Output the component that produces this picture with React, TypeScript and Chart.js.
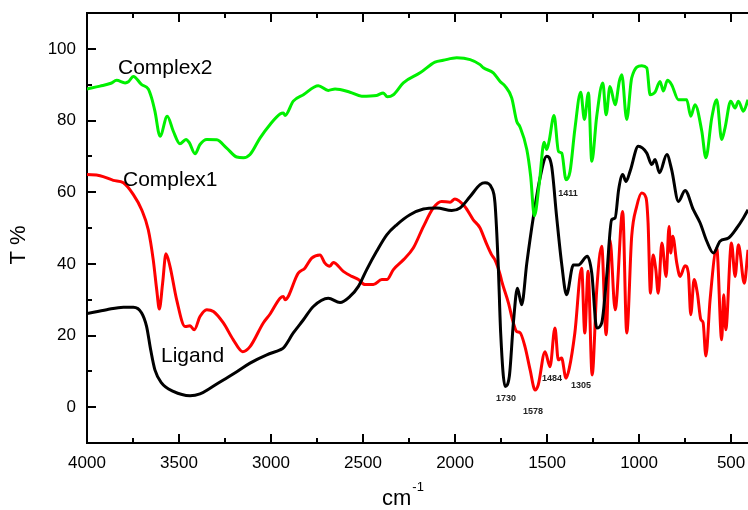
import React, { useEffect, useRef } from 'react';
import { Chart, registerables } from 'chart.js';

Chart.register(...registerables);

// ---- Data (wavenumber in cm-1, transmittance in %) ----
const ligandWn = [4000, 3893, 3802, 3748, 3703, 3676, 3654, 3631, 3594, 3531, 3440, 3386, 3331, 3259, 3186, 3114, 3023, 2951, 2933, 2879, 2824, 2770, 2689, 2625, 2571, 2525, 2480, 2426, 2371, 2317, 2245, 2172, 2099, 2018, 1973, 1918, 1864, 1837, 1801, 1783, 1765, 1752, 1728, 1705, 1683, 1661, 1638, 1610, 1574, 1538, 1502, 1475, 1448, 1421, 1394, 1357, 1330, 1281, 1257, 1230, 1203, 1176, 1149, 1130, 1111, 1089, 1071, 1049, 1004, 958, 931, 913, 889, 849, 823, 786, 750, 705, 668, 632, 596, 560, 514, 469, 433, 408];
const ligandT = [26.1, 27.2, 27.9, 27.9, 26.3, 22.5, 16.0, 10.4, 6.7, 4.4, 3.2, 3.7, 5.3, 7.6, 9.9, 12.3, 14.6, 16.0, 16.5, 20.7, 24.4, 28.1, 30.4, 29.2, 30.9, 33.7, 38.4, 43.5, 48.1, 50.9, 53.7, 55.3, 55.6, 54.9, 55.6, 58.8, 62.1, 62.6, 61.2, 57.0, 39.3, 20.7, 5.8, 8.6, 23.5, 33.2, 28.6, 40.2, 53.2, 64.0, 70.0, 67.2, 53.2, 40.2, 31.4, 39.7, 39.7, 42.1, 37.4, 22.1, 23.5, 36.5, 52.3, 52.8, 60.7, 64.9, 63.0, 65.8, 72.8, 70.9, 67.7, 69.1, 65.4, 70.5, 66.3, 57.4, 60.5, 55.1, 51.4, 46.3, 43.0, 46.3, 47.2, 50.0, 52.8, 55.1];

const complex1Wn = [4000, 3929, 3857, 3802, 3748, 3703, 3667, 3640, 3621, 3607, 3589, 3571, 3549, 3513, 3467, 3440, 3417, 3386, 3349, 3313, 3259, 3205, 3154, 3114, 3042, 3005, 2951, 2933, 2924, 2852, 2816, 2779, 2734, 2707, 2681, 2662, 2607, 2561, 2525, 2489, 2444, 2398, 2371, 2335, 2281, 2227, 2172, 2118, 2073, 2027, 2001, 1947, 1901, 1864, 1846, 1828, 1801, 1783, 1755, 1746, 1710, 1683, 1665, 1647, 1620, 1592, 1565, 1548, 1511, 1484, 1457, 1439, 1421, 1397, 1379, 1349, 1312, 1295, 1277, 1255, 1230, 1203, 1179, 1158, 1130, 1089, 1067, 1040, 1013, 986, 962, 951, 938, 924, 909, 896, 876, 853, 837, 828, 817, 795, 777, 750, 732, 719, 701, 683, 664, 652, 637, 614, 578, 551, 540, 529, 498, 478, 460, 428, 408];
const complex1T = [64.9, 64.6, 63.3, 62.6, 59.3, 55.1, 49.5, 41.1, 32.7, 27.4, 34.6, 42.8, 39.3, 30.0, 22.5, 22.7, 21.6, 25.3, 27.2, 26.7, 23.5, 18.8, 15.5, 16.9, 23.5, 26.0, 30.4, 30.9, 30.0, 37.4, 38.8, 41.6, 42.5, 40.2, 39.3, 40.4, 37.9, 36.5, 35.6, 34.2, 34.2, 35.6, 35.6, 38.4, 41.1, 44.4, 50.4, 55.6, 57.4, 57.2, 58.1, 56.0, 52.3, 50.0, 47.8, 45.5, 42.5, 41.1, 37.0, 35.1, 29.1, 23.5, 21.1, 20.8, 16.9, 10.4, 4.8, 6.2, 15.5, 11.3, 22.1, 13.2, 13.7, 8.1, 10.9, 20.7, 38.8, 20.7, 37.9, 9.0, 32.8, 44.9, 20.2, 46.7, 27.2, 54.6, 20.7, 47.7, 56.0, 59.8, 58.4, 51.4, 31.8, 42.5, 38.4, 31.8, 45.8, 36.5, 50.4, 43.0, 47.7, 40.2, 36.5, 39.5, 37.4, 25.8, 35.6, 31.8, 24.4, 23.6, 14.3, 30.0, 44.4, 18.8, 31.4, 21.6, 45.8, 36.5, 45.3, 34.6, 43.9];

const complex2Wn = [4000, 3929, 3870, 3839, 3793, 3775, 3748, 3703, 3667, 3649, 3631, 3603, 3564, 3531, 3495, 3462, 3444, 3413, 3386, 3349, 3295, 3241, 3186, 3150, 3114, 3060, 3005, 2951, 2933, 2924, 2879, 2824, 2743, 2689, 2652, 2571, 2507, 2426, 2390, 2368, 2335, 2281, 2190, 2109, 2064, 1991, 1918, 1864, 1846, 1792, 1755, 1728, 1692, 1665, 1647, 1610, 1589, 1569, 1542, 1516, 1502, 1489, 1462, 1438, 1420, 1397, 1375, 1349, 1317, 1297, 1275, 1257, 1230, 1197, 1179, 1158, 1130, 1107, 1094, 1067, 1040, 985, 958, 940, 913, 886, 868, 846, 823, 786, 741, 719, 696, 659, 637, 605, 578, 551, 533, 502, 478, 460, 433, 408];
const complex2T = [88.8, 89.6, 90.4, 91.2, 90.5, 90.8, 92.3, 90.0, 88.8, 86.3, 82.6, 75.6, 81.2, 77.0, 73.5, 74.7, 73.8, 70.7, 73.3, 74.7, 74.6, 72.3, 69.8, 69.6, 70.5, 75.1, 78.9, 81.8, 82.1, 81.4, 85.4, 87.2, 89.7, 88.4, 88.8, 87.9, 86.8, 87.0, 87.7, 86.6, 87.2, 90.5, 93.3, 96.3, 96.8, 97.5, 97.0, 95.6, 94.7, 93.3, 90.9, 89.6, 86.3, 79.8, 78.2, 71.9, 64.4, 53.4, 62.6, 73.9, 71.9, 74.2, 81.4, 71.4, 70.9, 63.5, 65.8, 77.5, 87.9, 80.3, 87.7, 68.6, 81.2, 90.5, 81.6, 89.5, 84.4, 91.0, 92.8, 80.3, 91.9, 95.3, 94.7, 87.2, 87.9, 90.9, 88.2, 91.2, 90.0, 85.8, 85.8, 81.2, 84.4, 77.0, 69.6, 80.7, 85.8, 74.7, 77.9, 85.4, 83.5, 85.4, 82.6, 85.8];

const xTickLabels = [4000, 3500, 3000, 2500, 2000, 1500, 1000, 500];
const yTickLabels = [0, 20, 40, 60, 80, 100];
const seriesNames = ['Ligand', 'Complex1', 'Complex2'];
const peakLabels = ['1411', '1730', '1578', '1484', '1305'];

const FONT = '"Liberation Sans", Arial, Helvetica, sans-serif';

function toPoints(wn: number[], t: number[]) {
  return wn.map((w, i) => ({ x: w, y: t[i] }));
}

export default function App() {
  const ref = useRef<HTMLCanvasElement>(null);

  useEffect(() => {
    const canvas = ref.current!;
    const decor = {
      id: 'decor',
      afterDraw(chart: any) {
        const { ctx, chartArea: a } = chart;
        const xs = chart.scales.x;
        const ys = chart.scales.y;
        ctx.save();
        ctx.strokeStyle = '#000';
        ctx.lineWidth = 2;
        ctx.beginPath();
        ctx.moveTo(a.left, a.top);
        ctx.lineTo(a.right + 2, a.top);
        // x ticks (inward, bottom and top)
        for (let v = 4000; v >= 400; v -= 250) {
          const px = Math.round(xs.getPixelForValue(v));
          if (px > a.right) continue;
          const len = v % 500 === 0 ? 9 : 5;
          ctx.moveTo(px, a.bottom);
          ctx.lineTo(px, a.bottom - len);
          ctx.moveTo(px, a.top);
          ctx.lineTo(px, a.top + len);
        }
        // y ticks (inward, left)
        for (let v = -10; v <= 110; v += 10) {
          const py = Math.round(ys.getPixelForValue(v));
          const len = v % 20 === 0 ? 9 : 5;
          ctx.moveTo(a.left, py);
          ctx.lineTo(a.left + len, py);
        }
        ctx.stroke();

        ctx.fillStyle = '#000';
        // axis titles
        ctx.save();
        ctx.translate(19, 245);
        ctx.rotate(-Math.PI / 2);
        ctx.font = `22px ${FONT}`;
        ctx.textAlign = 'center';
        ctx.textBaseline = 'middle';
        ctx.fillText('T %', 0, 0);
        ctx.restore();

        ctx.font = `22px ${FONT}`;
        ctx.textAlign = 'left';
        ctx.textBaseline = 'alphabetic';
        ctx.fillText('cm', 382, 505);
        const cw = ctx.measureText('cm').width;
        ctx.font = `13px ${FONT}`;
        ctx.fillText('-1', 382 + cw + 1, 491);

        // series labels
        ctx.font = `21px ${FONT}`;
        ctx.fillText(seriesNames[2], 118, 74);
        ctx.fillText(seriesNames[1], 123, 186);
        ctx.fillText(seriesNames[0], 161, 362);

        // peak labels
        ctx.font = `bold 9px ${FONT}`;
        ctx.fillStyle = '#222';
        ctx.textAlign = 'center';
        ctx.textBaseline = 'middle';
        const pos = [[568, 194], [506, 399], [533, 412], [552, 379], [581, 386]];
        peakLabels.forEach((t, i) => ctx.fillText(t, pos[i][0], pos[i][1]));
        ctx.restore();
      },
    };

    const chart = new Chart(canvas, {
      type: 'line',
      data: {
        datasets: [
          { label: seriesNames[2], data: toPoints(complex2Wn, complex2T), borderColor: '#00f000' },
          { label: seriesNames[0], data: toPoints(ligandWn, ligandT), borderColor: '#000000' },
          { label: seriesNames[1], data: toPoints(complex1Wn, complex1T), borderColor: '#ff0000' },
        ],
      },
      options: {
        animation: false,
        responsive: false,
        devicePixelRatio: 1,
        layout: { padding: { top: 13, left: 0, right: 0, bottom: 0 } },
        plugins: { legend: { display: false }, tooltip: { enabled: false } },
        elements: {
          point: { radius: 0 },
          line: { borderWidth: 3, cubicInterpolationMode: 'monotone', fill: false },
        },
        scales: {
          x: {
            type: 'linear',
            reverse: true,
            min: 408,
            max: 4000,
            afterBuildTicks: (s: any) => {
              s.ticks = xTickLabels.map((v) => ({ value: v }));
            },
            afterFit: (s: any) => {
              s.height = 67;
              s.paddingLeft = 0;
              s.paddingRight = 0;
            },
            grid: { display: false, drawTicks: false },
            border: { display: true, color: '#000', width: 2 },
            ticks: {
              font: { family: FONT, size: 17 },
              color: '#000',
              padding: 10,
              maxRotation: 0,
              autoSkip: false,
              callback: (v: any) => String(v),
            },
          },
          y: {
            type: 'linear',
            min: -10,
            max: 110,
            afterBuildTicks: (s: any) => {
              s.ticks = yTickLabels.map((v) => ({ value: v }));
            },
            afterFit: (s: any) => {
              s.width = 87;
              s.paddingTop = 0;
              s.paddingBottom = 0;
            },
            grid: { display: false, drawTicks: false },
            border: { display: true, color: '#000', width: 2 },
            ticks: {
              font: { family: FONT, size: 17 },
              color: '#000',
              padding: 11,
              autoSkip: false,
              callback: (v: any) => String(v),
            },
          },
        },
      } as any,
      plugins: [decor],
    });
    return () => chart.destroy();
  }, []);

  return (
    <div style={{ position: 'fixed', left: 0, top: 0, width: 748, height: 510, background: '#fff' }}>
      <canvas ref={ref} width={748} height={510} style={{ display: 'block', width: 748, height: 510 }} />
    </div>
  );
}
